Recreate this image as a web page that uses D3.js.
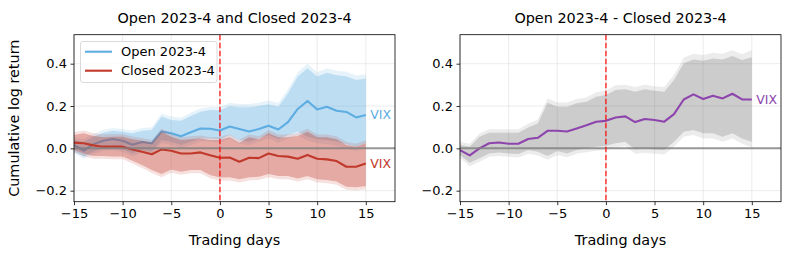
<!DOCTYPE html>
<html>
<head>
<meta charset="utf-8">
<script src="https://cdn.jsdelivr.net/npm/d3@7"></script>
<style>
  body { margin: 0; background: #fff; }
  svg { font-family: "DejaVu Sans", sans-serif; }
</style>
</head>
<body>
<svg id="chart" width="793" height="258"></svg>
<script>
// event window, trading days relative to the event
var days = d3.range(-15, 16);

var xTicks = [-15, -10, -5, 0, 5, 10, 15];
var yTicks = [-0.2, 0.0, 0.2, 0.4];

// Open 2023-4
var openMean  = [0.016,-0.011,0.02,0.036,0.044,0.036,0.017,0.03,0.024,0.08,0.071,0.057,0.076,0.094,0.093,0.084,0.103,0.091,0.08,0.091,0.107,0.089,0.124,0.186,0.224,0.184,0.197,0.178,0.172,0.146,0.158];
var openHi    = [0.039,0.031,0.055,0.074,0.083,0.079,0.071,0.083,0.087,0.15,0.134,0.13,0.153,0.173,0.181,0.18,0.2,0.194,0.194,0.2,0.209,0.197,0.26,0.339,0.378,0.339,0.357,0.346,0.341,0.323,0.33];
var openLo    = [-0.012,-0.039,-0.016,0,0.005,-0.005,-0.024,-0.008,-0.016,0.039,0.031,0.016,0.031,0.047,0.047,0.042,0.063,0.039,0.031,0.047,0.063,0.043,0.063,0.079,0.055,0.043,0.039,0.031,0.019,0.008,0.024];
var openHiOut = [0.05,0.043,0.068,0.087,0.096,0.092,0.084,0.096,0.1,0.165,0.149,0.145,0.168,0.188,0.196,0.195,0.216,0.21,0.21,0.216,0.226,0.214,0.279,0.36,0.4,0.36,0.378,0.367,0.362,0.344,0.35];
var openLoOut = [-0.022,-0.05,-0.028,-0.012,-0.008,-0.018,-0.037,-0.021,-0.03,0.025,0.017,0.002,0.016,0.032,0.032,0.027,0.047,0.023,0.015,0.031,0.047,0.027,0.046,0.061,0.036,0.024,0.02,0.011,-0.001,-0.012,0.004];

// Closed 2023-4
var closedMean  = [0.027,0.024,0.014,0.008,0.008,0.008,-0.005,-0.016,-0.028,-0.005,-0.011,-0.024,-0.024,-0.019,-0.033,-0.044,-0.043,-0.063,-0.044,-0.046,-0.024,-0.036,-0.039,-0.049,-0.031,-0.049,-0.052,-0.06,-0.087,-0.087,-0.072];
var closedHi    = [0.063,0.071,0.058,0.052,0.055,0.055,0.043,0.036,0.027,0.079,0.055,0.039,0.043,0.047,0.039,0.04,0.052,0.027,0.052,0.043,0.071,0.052,0.052,0.058,0.079,0.052,0.052,0.043,0.016,0.008,0.024];
var closedLo    = [-0.008,-0.024,-0.036,-0.036,-0.039,-0.039,-0.058,-0.079,-0.102,-0.121,-0.1,-0.11,-0.102,-0.102,-0.126,-0.138,-0.137,-0.146,-0.137,-0.134,-0.121,-0.131,-0.131,-0.142,-0.131,-0.146,-0.15,-0.157,-0.181,-0.184,-0.178];
var closedHiOut = [0.076,0.084,0.071,0.065,0.068,0.068,0.056,0.049,0.04,0.093,0.069,0.053,0.057,0.061,0.053,0.054,0.066,0.041,0.066,0.057,0.085,0.066,0.066,0.072,0.093,0.066,0.066,0.057,0.03,0.022,0.038];
var closedLoOut = [-0.02,-0.037,-0.049,-0.049,-0.052,-0.052,-0.072,-0.093,-0.116,-0.136,-0.115,-0.125,-0.117,-0.117,-0.141,-0.153,-0.152,-0.161,-0.152,-0.149,-0.136,-0.146,-0.146,-0.157,-0.146,-0.161,-0.165,-0.172,-0.196,-0.199,-0.193];

// Open minus Closed
var diffMean  = [-0.008,-0.033,0,0.024,0.028,0.022,0.022,0.044,0.05,0.083,0.083,0.08,0.094,0.109,0.126,0.13,0.146,0.151,0.124,0.139,0.134,0.126,0.162,0.231,0.255,0.233,0.249,0.236,0.258,0.231,0.231];
var diffHi    = [0.016,0.008,0.055,0.074,0.074,0.074,0.074,0.099,0.118,0.216,0.197,0.197,0.213,0.22,0.244,0.252,0.276,0.279,0.268,0.279,0.272,0.268,0.323,0.402,0.42,0.414,0.425,0.42,0.436,0.417,0.43];
var diffLo    = [-0.031,-0.068,-0.047,-0.024,-0.02,-0.024,-0.027,-0.008,-0.016,-0.036,-0.013,-0.024,-0.008,0,0.008,0.012,0.024,0.031,-0.005,0,-0.005,-0.008,0.031,0.079,0.087,0.071,0.071,0.055,0.071,0.047,0.031];
var diffHiOut = [0.03,0.022,0.07,0.09,0.09,0.09,0.09,0.116,0.136,0.236,0.217,0.217,0.233,0.24,0.265,0.273,0.298,0.301,0.29,0.301,0.294,0.29,0.347,0.428,0.447,0.441,0.452,0.447,0.463,0.445,0.465];
var diffLoOut = [-0.045,-0.084,-0.063,-0.04,-0.036,-0.04,-0.043,-0.025,-0.034,-0.054,-0.031,-0.042,-0.026,-0.018,-0.011,-0.007,0.004,0.011,-0.026,-0.021,-0.026,-0.029,0.008,0.055,0.063,0.047,0.047,0.031,0.047,0.022,0.005];

var svg = d3.select("#chart");
var top_ = 34.7, bottom_ = 201.7;

var y = d3.scaleLinear().domain([-0.252, 0.537]).range([bottom_, top_]);

function fmtY(d) { return d3.format(".1f")(d).replace("-", "\u2212"); }
function fmtX(d) { return String(d).replace("-", "\u2212"); }

function panel(left, right, title, series, showLegend, showYLabel) {
  var x = d3.scaleLinear().domain([-15, 18]).range([left, right]);
  var g = svg.append("g");

  // grid
  g.selectAll(".gx").data(xTicks).enter().append("line")
    .attr("x1", d => x(d)).attr("x2", d => x(d))
    .attr("y1", top_).attr("y2", bottom_)
    .attr("stroke", "#b0b0b0").attr("stroke-opacity", 0.3).attr("stroke-width", 0.8);
  g.selectAll(".gy").data(yTicks).enter().append("line")
    .attr("x1", left).attr("x2", right)
    .attr("y1", d => y(d)).attr("y2", d => y(d))
    .attr("stroke", "#b0b0b0").attr("stroke-opacity", 0.3).attr("stroke-width", 0.8);

  var clip = "clip" + Math.round(left);
  svg.append("clipPath").attr("id", clip).append("rect")
    .attr("x", left).attr("y", top_).attr("width", right - left).attr("height", bottom_ - top_);
  var plot = g.append("g").attr("clip-path", "url(#" + clip + ")");

  series.forEach(function(s) {
    var area = function(lo, hi) {
      return d3.area().x((d, i) => x(days[i])).y0((d, i) => y(lo[i])).y1((d, i) => y(hi[i]))(days);
    };
    plot.append("path").attr("d", area(s.loOut, s.hiOut))
      .attr("fill", s.band).attr("fill-opacity", s.outAlpha);
    plot.append("path").attr("d", area(s.lo, s.hi))
      .attr("fill", s.band).attr("fill-opacity", s.inAlpha);
    plot.append("path")
      .attr("d", d3.line().x((d, i) => x(days[i])).y((d, i) => y(s.mean[i]))(days))
      .attr("fill", "none").attr("stroke", s.color).attr("stroke-width", 2.1)
      .attr("stroke-linejoin", "round");
    g.append("text")
      .attr("x", x(days[days.length - 1]) + 4.5)
      .attr("y", y(s.mean[s.mean.length - 1]))
      .attr("dy", "0.36em")
      .attr("fill", s.color).attr("font-size", 12.5)
      .text("VIX");
  });

  // zero line
  plot.append("line")
    .attr("x1", left).attr("x2", right).attr("y1", y(0)).attr("y2", y(0))
    .attr("stroke", "#808080").attr("stroke-width", 2).attr("stroke-opacity", 0.8);
  // event line
  plot.append("line")
    .attr("x1", x(0)).attr("x2", x(0)).attr("y1", top_).attr("y2", bottom_)
    .attr("stroke", "#ff0000").attr("stroke-opacity", 0.65).attr("stroke-width", 1.8)
    .attr("stroke-dasharray", "5.5,2.5");

  // axes
  var xa = g.append("g").attr("transform", "translate(0," + bottom_ + ")")
    .call(d3.axisBottom(x).tickValues(xTicks).tickFormat(fmtX).tickSize(3.5).tickPadding(3.5));
  var ya = g.append("g").attr("transform", "translate(" + left + ",0)")
    .call(d3.axisLeft(y).tickValues(yTicks).tickFormat(fmtY).tickSize(3.5).tickPadding(3.5));
  [xa, ya].forEach(function(a) {
    a.select(".domain").remove();
    a.selectAll("text").attr("font-size", 13).attr("fill", "#000").attr("font-family", "DejaVu Sans");
    a.selectAll("line").attr("stroke", "#000").attr("stroke-width", 0.8);
  });
  g.append("rect").attr("x", left).attr("y", top_)
    .attr("width", right - left).attr("height", bottom_ - top_)
    .attr("fill", "none").attr("stroke", "#000").attr("stroke-width", 0.8);

  g.append("text").attr("x", (left + right) / 2).attr("y", 22.5)
    .attr("text-anchor", "middle").attr("font-size", 14.4).text(title);
  g.append("text").attr("x", (left + right) / 2).attr("y", 245)
    .attr("text-anchor", "middle").attr("font-size", 14.4).text("Trading days");
  if (showYLabel) {
    g.append("text").attr("transform", "translate(19," + (top_ + bottom_) / 2 + ") rotate(-90)")
      .attr("text-anchor", "middle").attr("font-size", 14.4).text("Cumulative log return");
  }

  if (showLegend) {
    var lg = g.append("g");
    lg.append("rect").attr("x", 80.5).attr("y", 41.5).attr("width", 136.5).attr("height", 41)
      .attr("rx", 2.5).attr("fill", "#fff").attr("fill-opacity", 0.8)
      .attr("stroke", "#d0d0d0").attr("stroke-width", 0.8);
    series.forEach(function(s, i) {
      var yy = 51.7 + i * 19;
      lg.append("line").attr("x1", 85).attr("x2", 112).attr("y1", yy).attr("y2", yy)
        .attr("stroke", s.color).attr("stroke-width", 2.1);
      lg.append("text").attr("x", 121).attr("y", yy).attr("dy", "0.36em")
        .attr("font-size", 13).text(s.name);
    });
  }
}

panel(74, 395, "Open 2023-4 and Closed 2023-4", [
  { name: "Open 2023-4", mean: openMean, hi: openHi, lo: openLo, hiOut: openHiOut, loOut: openLoOut,
    color: "#5dade2", band: "#5dade2", inAlpha: 0.3, outAlpha: 0.15 },
  { name: "Closed 2023-4", mean: closedMean, hi: closedHi, lo: closedLo, hiOut: closedHiOut, loOut: closedLoOut,
    color: "#c0392b", band: "#c0392b", inAlpha: 0.33, outAlpha: 0.15 }
], true, true);

panel(460, 781, "Open 2023-4 - Closed 2023-4", [
  { name: "Open 2023-4 - Closed 2023-4", mean: diffMean, hi: diffHi, lo: diffLo, hiOut: diffHiOut, loOut: diffLoOut,
    color: "#8e44ad", band: "#808080", inAlpha: 0.3, outAlpha: 0.15 }
], false, false);
</script>
</body>
</html>
